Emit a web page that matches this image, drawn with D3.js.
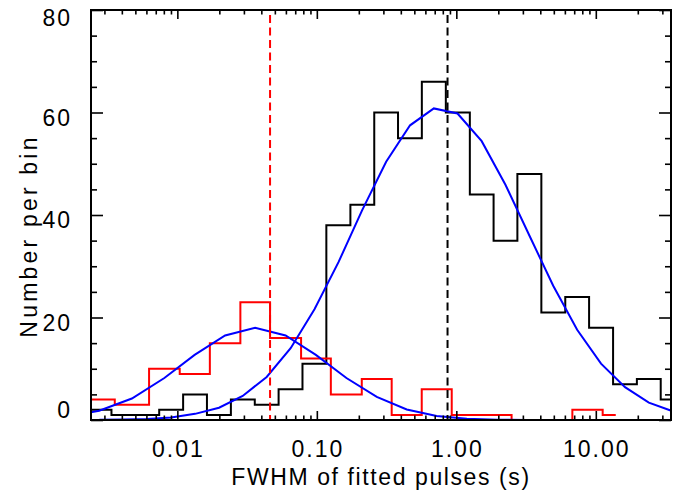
<!DOCTYPE html>
<html>
<head>
<meta charset="utf-8">
<script src="https://cdn.jsdelivr.net/npm/d3@7"></script>
<style>
    body { margin: 0; background: #fff; }
    text { font-family: "Liberation Sans", Arial, Helvetica, sans-serif; font-size: 23px; fill: #000; letter-spacing: 2px; }
    .tick line { stroke: #000; stroke-width: 1.6px; }
</style>
</head>
<body>
<div id="chart"></div>
<script>
(function() {
    var margin = {top: 10, right: 10, bottom: 74, left: 91},
    width = 580,
    height = 410;

    // black histogram: bin edges (s) and counts
    var blackEdges = [0.00227, 0.00337, 0.00499, 0.00741, 0.0110, 0.0163, 0.0242, 0.0359, 0.0532,
        0.0789, 0.117, 0.174, 0.258, 0.382, 0.566, 0.841, 1.25, 1.85, 2.74, 4.07, 6.04, 8.95,
        13.3, 19.7, 29.2, 43.4];
    var blackCounts = [2, 1, 1, 2, 5, 1, 4, 3, 6, 11, 38, 42, 60, 55, 66, 60, 44, 35, 48, 21,
        24, 18, 7, 8, 4];

    // red histogram: bin edges (s) and counts, last edge is where the line stops
    var redEdges = [0.00214, 0.00356, 0.00627, 0.0104, 0.0171, 0.0283, 0.0462, 0.0771, 0.126,
        0.210, 0.344, 0.565, 0.927, 1.52, 2.49, 4.09, 6.79, 11.2, 13.9];
    var redCounts = [4, 3, 10, 9, 15, 23, 16, 12, 5, 8, 1, 6, 1, 1, 0, 0, 2, 1];

    var redFitX = [0.00166, 0.00275, 0.00472, 0.00807, 0.0133, 0.0220, 0.0361, 0.0597, 0.0984,
        0.163, 0.269, 0.441, 0.723, 1.19, 1.95, 3.20, 5.27, 8.71, 13.9];
    var redFitY = [0.65, 1.8, 4.2, 8.2, 12.7, 16.5, 18.0, 16.5, 12.7, 8.2, 4.5, 2.05, 0.8, 0.26,
        0.07, 0.02, 0, 0, 0];

    var blackFitX = [0.00276, 0.00409, 0.00608, 0.00902, 0.0134, 0.0199, 0.0294, 0.0437, 0.0649,
        0.0962, 0.143, 0.211, 0.314, 0.466, 0.690, 1.02, 1.52, 2.25, 3.34, 4.95, 7.35, 10.9,
        16.2, 24.0, 35.6];
    var blackFitY = [0.03, 0.08, 0.2, 0.5, 1.2, 2.4, 4.7, 8.4, 14.0, 21.6, 30.8, 40.9, 50.4,
        57.5, 60.8, 59.8, 54.4, 45.9, 36.0, 26.2, 17.6, 11.0, 6.4, 3.4, 1.7];

    // dashed markers (s)
    var redMarker = 0.0462;
    var blackMarker = 0.865;

    var xMajor = [0.01, 0.1, 1, 10];
    var xLabels = ["0.01", "0.10", "1.00", "10.00"];
    var yMajor = [0, 20, 40, 60, 80];

    var x = d3.scaleLog()
        .domain([0.002404, 34.6])
        .range([0, width]);

    var y = d3.scaleLinear()
        .domain([0, 80])
        .range([height, 0]);

    var svg = d3.select("#chart").append("svg")
        .attr("width", 681)
        .attr("height", 494);

    var plot = svg.append("g")
        .attr("transform", "translate(" + margin.left + "," + margin.top + ")");

    plot.append("clipPath")
        .attr("id", "clip")
        .append("rect")
        .attr("width", width)
        .attr("height", height);

    var body = plot.append("g").attr("clip-path", "url(#clip)");

    function stepPoints(edges, counts) {
        var pts = counts.map(function(c, i) { return [edges[i], c]; });
        pts.push([edges[edges.length - 1], counts[counts.length - 1]]);
        return pts;
    }

    var stepLine = d3.line()
        .x(function(d) { return x(d[0]); })
        .y(function(d) { return y(d[1]); })
        .curve(d3.curveStepAfter);

    var fitLine = d3.line()
        .x(function(d) { return x(d[0]); })
        .y(function(d) { return y(d[1]); });

    body.append("path")
        .datum(stepPoints(blackEdges, blackCounts))
        .attr("fill", "none")
        .attr("stroke", "#000")
        .attr("stroke-width", 2)
        .attr("d", stepLine);

    body.append("path")
        .datum(stepPoints(redEdges, redCounts))
        .attr("fill", "none")
        .attr("stroke", "#ff0000")
        .attr("stroke-width", 2)
        .attr("d", stepLine);

    [[redFitX, redFitY], [blackFitX, blackFitY]].forEach(function(fit) {
        body.append("path")
            .datum(d3.zip(fit[0], fit[1]))
            .attr("fill", "none")
            .attr("stroke", "#0000ff")
            .attr("stroke-width", 2)
            .attr("d", fitLine);
    });

    [[redMarker, "#ff0000"], [blackMarker, "#000"]].forEach(function(m) {
        body.append("line")
            .attr("x1", x(m[0]))
            .attr("x2", x(m[0]))
            .attr("y1", y(80) + 5)
            .attr("y2", y(0))
            .attr("stroke", m[1])
            .attr("stroke-width", 2)
            .attr("stroke-dasharray", "8,4.5");
    });

    //ticks on all four sides, pointing inward
    var xMinor = x.ticks().filter(function(d) { return xMajor.indexOf(d) < 0; });
    var yMinor = d3.range(0, 81, 5).filter(function(d) { return yMajor.indexOf(d) < 0; });

    function tickAxis(axis, values, size) {
        return axis.tickValues(values).tickSize(size).tickFormat("");
    }

    var axes = [
        [d3.axisTop(x), xMinor, 4.5, "translate(0," + height + ")"],
        [d3.axisTop(x), xMajor, 9, "translate(0," + height + ")"],
        [d3.axisBottom(x), xMinor, 4.5, "translate(0,0)"],
        [d3.axisBottom(x), xMajor, 9, "translate(0,0)"],
        [d3.axisRight(y), yMinor, 6, "translate(0,0)"],
        [d3.axisRight(y), yMajor, 12, "translate(0,0)"],
        [d3.axisLeft(y), yMinor, 6, "translate(" + width + ",0)"],
        [d3.axisLeft(y), yMajor, 12, "translate(" + width + ",0)"]
    ];

    axes.forEach(function(a) {
        var g = plot.append("g")
            .attr("transform", a[3])
            .call(tickAxis(a[0], a[1], a[2]));
        g.select(".domain").remove();
    });

    plot.append("rect")
        .attr("width", width)
        .attr("height", height)
        .attr("fill", "none")
        .attr("stroke", "#000")
        .attr("stroke-width", 2);

    // tick labels
    plot.selectAll(".x-label")
        .data(xMajor)
        .enter()
        .append("text")
        .attr("class", "x-label")
        .attr("x", function(d) { return x(d) + 1; })
        .attr("y", height + 36.5)
        .attr("text-anchor", "middle")
        .text(function(d, i) { return xLabels[i]; });

    plot.selectAll(".y-label")
        .data(yMajor)
        .enter()
        .append("text")
        .attr("class", "y-label")
        .attr("x", -19)
        .attr("y", function(d) { return Math.min(Math.max(y(d) + 5, 8), 400); })
        .attr("dy", "0.35em")
        .attr("text-anchor", "end")
        .text(function(d) { return d; });

    plot.append("text")
        .attr("x", width / 2)
        .attr("y", height + 64.5)
        .attr("text-anchor", "middle")
        .style("letter-spacing", "1.6px")
        .text("FWHM of fitted pulses (s)");

    plot.append("text")
        .attr("transform", "translate(" + (37 - margin.left) + "," + (236 - margin.top) + ") rotate(-90)")
        .attr("text-anchor", "middle")
        .style("letter-spacing", "3.2px")
        .text("Number per bin");
})();
</script>
</body>
</html>
